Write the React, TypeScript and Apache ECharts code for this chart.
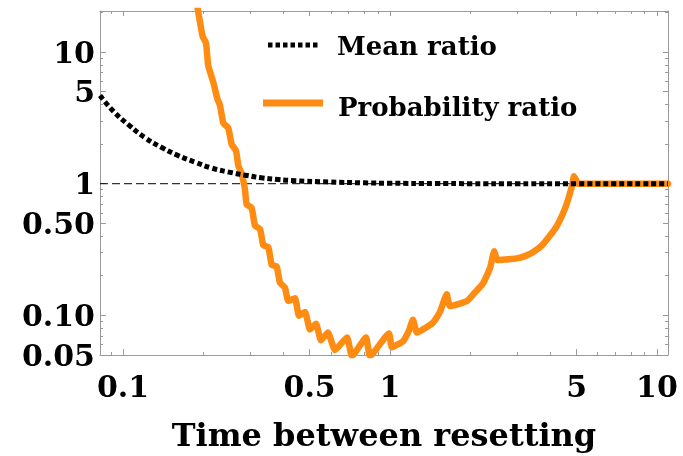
import React, { useEffect, useRef } from 'react';
import * as echarts from 'echarts';

const L = (v: number) => Math.log10(v);

// axis limits (data units)
const xMin = 0.082;
const xMax = 11;
const yMin = 0.05;
const yMax = 20.5;

// tick values / labels
const xMajor = [0.1, 0.5, 1, 5, 10];
const xMajorLabels = ['0.1', '0.5', '1', '5', '10'];
const xMinor = [0.09, 0.2, 0.3, 0.4, 0.6, 0.7, 0.8, 0.9, 2, 3, 4, 6, 7, 8, 9];
const yMajor = [0.05, 0.1, 0.5, 1, 5, 10];
const yMajorLabels = ['0.05', '0.10', '0.50', '1', '5', '10'];
const yMinor = [0.06, 0.07, 0.08, 0.09, 0.2, 0.3, 0.4, 0.6, 0.7, 0.8, 0.9, 2, 3, 4, 6, 7, 8, 9, 20];

const seriesNames = ['Mean ratio', 'Probability ratio'];
const xTitle = 'Time between resetting';
const refLevel = 1;

// Mean ratio (dotted black)
const meanX = [0.082, 0.0933, 0.1047, 0.1209, 0.1396, 0.1611, 0.1861, 0.2149, 0.2479, 0.2864, 0.3308, 0.3817, 0.4407, 0.5875, 0.8, 1.0, 1.5, 2, 3, 5, 11];
const meanY = [4.67, 3.45, 2.81, 2.236, 1.884, 1.635, 1.458, 1.315, 1.228, 1.161, 1.108, 1.076, 1.053, 1.03, 1.015, 1.008, 1.003, 1.001, 1.0, 1.0, 1.0];

// Probability ratio (orange)
const probX = [0.19, 0.1988, 0.2046, 0.2087, 0.2179, 0.2255, 0.2308, 0.2375, 0.2479, 0.2553, 0.265, 0.2703, 0.2783, 0.2864, 0.2905, 0.3034, 0.3121, 0.326, 0.3354, 0.3502, 0.3606, 0.3764, 0.3873, 0.4044, 0.416, 0.4407, 0.4562, 0.4804, 0.5017, 0.5282, 0.5514, 0.5857, 0.6223, 0.6902, 0.7205, 0.813, 0.8416, 0.9915, 1.017, 1.118, 1.178, 1.219, 1.262, 1.449, 1.539, 1.631, 1.678, 1.938, 2.081, 2.23, 2.369, 2.458, 2.527, 2.696, 2.982, 3.203, 3.441, 3.71, 3.974, 4.222, 4.457, 4.6, 4.721, 4.826, 4.888, 4.974, 5.06, 11];
const probY = [22, 13.1, 11.7, 7.84, 5.9, 4.43, 3.95, 2.89, 2.65, 1.99, 1.78, 1.377, 1.193, 0.898, 0.695, 0.655, 0.479, 0.453, 0.34, 0.33, 0.2415, 0.2346, 0.1766, 0.162, 0.1288, 0.1349, 0.0992, 0.1062, 0.078, 0.0865, 0.0646, 0.0741, 0.0545, 0.068, 0.049, 0.068, 0.049, 0.0729, 0.0573, 0.0635, 0.0767, 0.0926, 0.0741, 0.0879, 0.1062, 0.1445, 0.1177, 0.1282, 0.1495, 0.1745, 0.2282, 0.3069, 0.263, 0.2653, 0.2709, 0.2817, 0.3032, 0.34, 0.4036, 0.479, 0.6013, 0.71, 0.8428, 1.0, 1.141, 1.071, 1.0, 1.0];

const FONT = '"DejaVu Serif", serif';
const FRAME = '#9a9a9a';
const ORANGE = '#FF8C12';

function fmt(values: number[], labels: string[]) {
  return (v: number) => {
    const i = values.findIndex((t) => Math.abs(L(t) - v) < 1e-6);
    return i >= 0 ? labels[i] : '';
  };
}

function axis(dim: 'x' | 'y', position: string, ticks: number[], len: number, line: boolean, labels?: string[]) {
  const min = dim === 'x' ? L(xMin) : L(yMin) - 1e-9;
  const max = dim === 'x' ? L(xMax) : L(yMax);
  const a: any = {
    type: 'value',
    position,
    min,
    max,
    axisLine: { show: line, onZero: false, lineStyle: { color: FRAME, width: 1 } },
    axisTick: {
      show: true,
      inside: true,
      length: len,
      customValues: ticks.map(L),
      lineStyle: { color: FRAME, width: 1 },
    },
    axisLabel: { show: false },
    splitLine: { show: false },
  };
  if (labels) {
    a.axisLabel = {
      show: true,
      customValues: ticks.map(L),
      formatter: fmt(ticks, labels),
      color: '#000',
      fontFamily: FONT,
      fontWeight: 'bold',
      fontSize: 30,
      margin: dim === 'x' ? 16 : 5,
    };
  }
  return a;
}

const xAxes = [
  {
    ...axis('x', 'bottom', xMajor, 6, true, xMajorLabels),
    name: xTitle,
    nameLocation: 'middle',
    nameGap: 64,
    nameTextStyle: { color: '#000', fontFamily: FONT, fontWeight: 'bold', fontSize: 32 },
  },
  axis('x', 'bottom', xMinor, 3, false),
  axis('x', 'top', xMajor, 5, true),
  axis('x', 'top', xMinor, 3, false),
];
const yAxes = [
  axis('y', 'left', yMajor, 6, true, yMajorLabels),
  axis('y', 'left', yMinor, 3, false),
  axis('y', 'right', yMajor, 5, true),
  axis('y', 'right', yMinor, 3, false),
];

const option: any = {
  animation: false,
  grid: { left: 100, top: 11, right: 15, bottom: 94, containLabel: false },
  xAxis: xAxes,
  yAxis: yAxes,
  series: [
    {
      type: 'line',
      name: 'ref',
      data: [[L(xMin), L(refLevel)], [L(xMax), L(refLevel)]],
      showSymbol: false,
      silent: true,
      lineStyle: { color: '#000', width: 1, type: [8, 4] },
      z: 1,
    },
    {
      type: 'line',
      name: seriesNames[1],
      data: probX.map((x, i) => [L(x), L(probY[i])]),
      showSymbol: false,
      smooth: 0.15,
      clip: true,
      lineStyle: { color: ORANGE, width: 6.5, join: 'round', cap: 'round' },
      z: 2,
    },
    {
      type: 'line',
      name: seriesNames[0],
      data: meanX.map((x, i) => [L(x), L(meanY[i])]),
      showSymbol: false,
      smooth: true,
      clip: true,
      lineStyle: { color: '#000', width: 5, type: [5, 3], cap: 'butt' },
      z: 3,
    },
  ],
  graphic: [
    {
      type: 'line',
      shape: { x1: 268, y1: 45, x2: 318, y2: 45 },
      style: { stroke: '#000', lineWidth: 5, lineDash: [4.5, 3] },
    },
    {
      type: 'text',
      x: 337,
      y: 46,
      style: { text: seriesNames[0], fill: '#000', fontFamily: FONT, fontWeight: 'bold', fontSize: 26, verticalAlign: 'middle' },
    },
    {
      type: 'line',
      shape: { x1: 263, y1: 103, x2: 323, y2: 103 },
      style: { stroke: ORANGE, lineWidth: 7 },
    },
    {
      type: 'text',
      x: 338,
      y: 107,
      style: { text: seriesNames[1], fill: '#000', fontFamily: FONT, fontWeight: 'bold', fontSize: 26, verticalAlign: 'middle' },
    },
  ],
};

export default function App() {
  const ref = useRef<HTMLDivElement>(null);
  useEffect(() => {
    const chart = echarts.init(ref.current!, null, { renderer: 'svg' });
    chart.setOption(option);
    return () => chart.dispose();
  }, []);
  return <div ref={ref} style={{ position: 'fixed', left: 0, top: 0, width: 683, height: 456 }} />;
}
